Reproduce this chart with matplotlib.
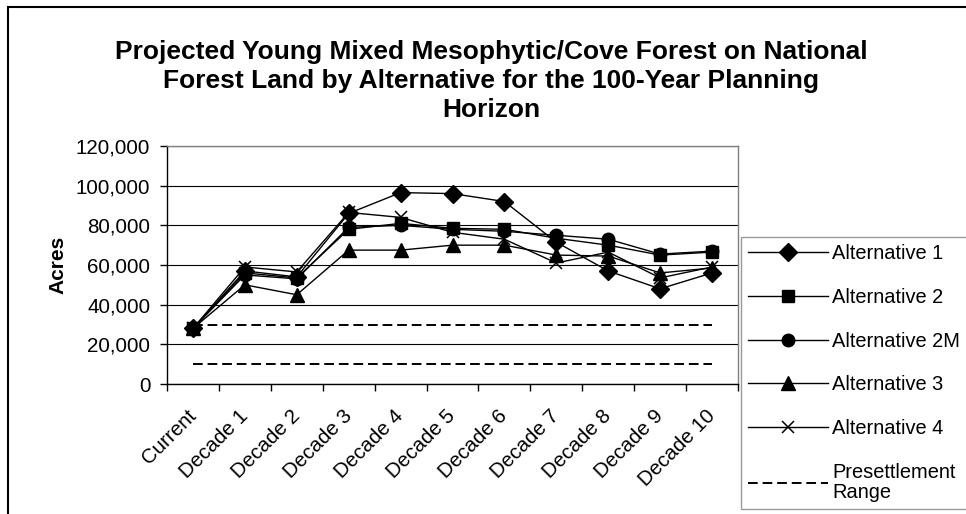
import numpy as np
import matplotlib.pyplot as plt
from matplotlib.patches import Rectangle
from matplotlib.ticker import FuncFormatter

plt.rcParams['font.family'] = ['Liberation Sans', 'DejaVu Sans']

# ---------------------------------------------------------------
# data (acres)
# ---------------------------------------------------------------
periods = ["Current", "Decade 1", "Decade 2", "Decade 3", "Decade 4", "Decade 5",
           "Decade 6", "Decade 7", "Decade 8", "Decade 9", "Decade 10"]

alt1 = [28000, 57000, 54000, 86000, 96500, 96000, 92000, 71500, 57000, 48000, 56000]
alt2 = [28000, 56000, 53500, 78000, 81000, 78500, 78000, 73500, 70000, 65000, 66500]
alt2m = [28000, 55000, 53000, 79000, 80000, 78000, 77000, 75000, 73000, 65500, 67000]
alt3 = [28000, 50000, 45000, 67500, 67500, 70000, 70000, 65000, 64500, 56000, 58500]
alt4 = [28000, 59000, 56500, 86500, 84000, 76500, 73000, 61000, 66500, 53500, 59000]

range_high = [30000] * len(periods)
range_low = [10000] * len(periods)

series = [
    ("Alternative 1", alt1, "D", 9.5),
    ("Alternative 2", alt2, "s", 8.5),
    ("Alternative 2M", alt2m, "o", 9),
    ("Alternative 3", alt3, "^", 10),
    ("Alternative 4", alt4, "x", 9),
]

# ---------------------------------------------------------------
# figure
# ---------------------------------------------------------------
fig = plt.figure(figsize=(9.66, 5.14), dpi=100)
ax = fig.add_axes([167 / 966, 1 - 384 / 514, (738 - 167) / 966, (384 - 146) / 514])

x = np.arange(len(periods))

for name, vals, mk, ms in series:
    ax.plot(x, vals, color="black", lw=1.0, marker=mk, markersize=ms,
            markeredgewidth=1.0 if mk != "x" else 1.1, label=name, zorder=3)

dash = (0, (5, 2.5))
ax.plot(x, range_high, color="black", lw=1.4, ls=dash,
        label="Presettlement\nRange", zorder=2)
ax.plot(x, range_low, color="black", lw=1.4, ls=dash, zorder=2)

# axes and grid
ax.set_xlim(-0.5, len(periods) - 0.5)
ax.set_ylim(0, 120000)
ax.set_yticks(np.arange(0, 120001, 20000))
ax.yaxis.set_major_formatter(FuncFormatter(lambda v, p: f"{int(v):,}"))
ax.grid(axis="y", color="black", lw=0.8, zorder=1)
ax.set_axisbelow(True)

ax.set_xticks(x)
ax.set_xticklabels(periods, rotation=45, ha="right", va="center",
                   rotation_mode="anchor")
ax.set_xticks(np.arange(-0.5, len(periods)), minor=True)
ax.tick_params(axis="x", which="major", length=0, pad=21, labelsize=14.8)
ax.tick_params(axis="x", which="minor", length=5, width=1, direction="out")
ax.tick_params(axis="y", length=5, width=1, labelsize=14.8, pad=7)

for side in ["top", "right"]:
    ax.spines[side].set_color("#808080")
    ax.spines[side].set_linewidth(1.0)
for side in ["left", "bottom"]:
    ax.spines[side].set_color("black")
    ax.spines[side].set_linewidth(1.0)

ax.set_ylabel("Acres", fontsize=15, fontweight="bold", labelpad=6)

fig.text(491 / 966, 1 - 81 / 514,
         "Projected Young Mixed Mesophytic/Cove Forest on National\n"
         "Forest Land by Alternative for the 100-Year Planning\nHorizon",
         ha="center", va="center", fontsize=19, fontweight="bold",
         linespacing=1.25)

# legend
leg = fig.legend(loc="upper left", bbox_to_anchor=(741 / 966, 1 - 237 / 514),
                 fontsize=14.4, frameon=True, fancybox=False, edgecolor="#808080",
                 handlelength=4.0, handletextpad=0.2, borderpad=0.35,
                 labelspacing=1.24, borderaxespad=0)
leg.get_frame().set_linewidth(1.0)
leg.get_texts()[-1].set_linespacing(1.05)

# chart border
fig.patches.append(Rectangle((8 / 966, -0.1), 2, 1.1 - 7 / 514,
                             transform=fig.transFigure, fill=False,
                             edgecolor="black", lw=1.5))

fig.savefig("out.png", dpi=100)
